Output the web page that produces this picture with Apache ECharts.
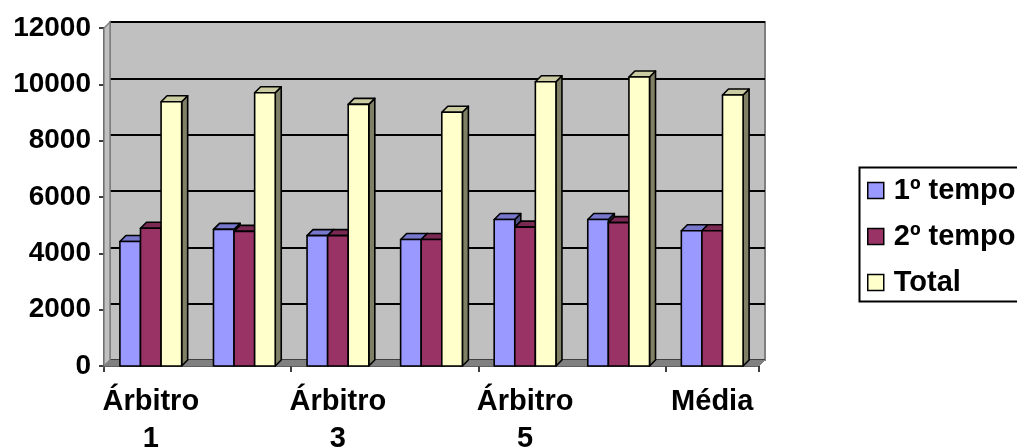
<!DOCTYPE html>
<html>
<head>
<meta charset="utf-8">
<script src="https://cdn.jsdelivr.net/npm/echarts@6/dist/echarts.min.js"></script>
<style>
  html, body { margin: 0; padding: 0; background: #fff; }
  #chart { width: 1017px; height: 447px; }
</style>
</head>
<body>
<div id="chart"></div>
<script>
// Data
var categories = ['Árbitro 1', 'Árbitro 2', 'Árbitro 3', 'Árbitro 4', 'Árbitro 5', 'Árbitro 6', 'Média'];
var seriesNames = ['1º tempo', '2º tempo', 'Total'];
var tempo1 = [4420, 4850, 4630, 4490, 5200, 5200, 4800];
var tempo2 = [4890, 4780, 4630, 4490, 4930, 5090, 4800];
var total = [9380, 9700, 9290, 9010, 10090, 10260, 9620];
var yTicks = [0, 2000, 4000, 6000, 8000, 10000, 12000];

// Styling
var FONT = 'Arial, "Liberation Sans", sans-serif';
var DEPTH_X = 6, DEPTH_Y = 6;
var BAR_RATIO = 0.22;
var faces = [
  { front: '#9999FF', top: '#7777CC', side: '#4D4D80' },
  { front: '#993366', top: '#7A2952', side: '#4D1A33' },
  { front: '#FFFFCC', top: '#CCCCA3', side: '#808066' }
];

function toPairs(arr) { return arr.map(function (v, i) { return [i, v]; }); }

// 3D-looking column: front face, top face and right side face
function bar3d(k) {
  return function (params, api) {
    var i = api.value(0), v = api.value(1);
    var base = api.coord([i, 0]);
    var tip = api.coord([i, v]);
    var band = api.size([1, 0])[0];
    var w = band * BAR_RATIO;
    var x = base[0] - 1.5 * w + k * w;
    var yb = base[1], yt = tip[1];
    var f = faces[k];
    var stroke = { stroke: '#000', lineWidth: 1.6, lineJoin: 'round' };
    return {
      type: 'group',
      children: [
        { type: 'polygon', shape: { points: [[x + w, yt], [x + w + DEPTH_X, yt - DEPTH_Y], [x + w + DEPTH_X, yb - DEPTH_Y], [x + w, yb]] },
          style: Object.assign({ fill: f.side }, stroke) },
        { type: 'polygon', shape: { points: [[x, yt], [x + w, yt], [x + w + DEPTH_X, yt - DEPTH_Y], [x + DEPTH_X, yt - DEPTH_Y]] },
          style: Object.assign({ fill: f.top }, stroke) },
        { type: 'rect', shape: { x: x, y: yt, width: w, height: yb - yt },
          style: Object.assign({ fill: f.front }, stroke) }
      ]
    };
  };
}

// Floor and left side wall of the plot box
function walls(params, api) {
  var n = categories.length;
  var band = api.size([1, 0])[0];
  var p0 = api.coord([0, 0]);
  var p1 = api.coord([n - 1, 0]);
  var pt = api.coord([0, yTicks[yTicks.length - 1]]);
  var x0 = p0[0] - band / 2, x1 = p1[0] + band / 2, y0 = p0[1], yt = pt[1];
  return {
    type: 'group',
    children: [
      { type: 'polygon', shape: { points: [[x0, y0], [x0, yt], [x0 + DEPTH_X, yt - DEPTH_Y], [x0 + DEPTH_X, y0 - DEPTH_Y]] },
        style: { fill: '#C0C0C0', stroke: '#808080', lineWidth: 1.5 } },
      { type: 'polygon', shape: { points: [[x0, y0], [x1, y0], [x1 + DEPTH_X, y0 - DEPTH_Y], [x0 + DEPTH_X, y0 - DEPTH_Y]] },
        style: { fill: '#808080', stroke: '#808080', lineWidth: 1 } }
    ]
  };
}

var chart = echarts.init(document.getElementById('chart'), null, { renderer: 'canvas' });

var yMax = yTicks[yTicks.length - 1];
var yStep = yTicks[1] - yTicks[0];

chart.setOption({
  animation: false,
  backgroundColor: '#ffffff',
  textStyle: { fontFamily: FONT },
  grid: [
    { left: 104, top: 28, width: 655, height: 338, outerBoundsMode: 'none', containLabel: false },
    { left: 110, top: 22, width: 655, height: 338, outerBoundsMode: 'none', containLabel: false,
      show: true, backgroundColor: '#C0C0C0', borderColor: '#808080', borderWidth: 2 }
  ],
  xAxis: [
    {
      gridIndex: 0, type: 'category', data: categories,
      axisLine: { lineStyle: { color: '#000', width: 1.5 } },
      axisTick: { show: true, length: 6, lineStyle: { color: '#000', width: 1.5 } },
      axisLabel: {
        interval: 1, margin: 17, color: '#000', fontFamily: FONT, fontWeight: 'bold', fontSize: 29, lineHeight: 37,
        formatter: function (v) { return v.replace(' ', '\n'); }
      }
    },
    { gridIndex: 1, type: 'category', data: categories, show: false }
  ],
  yAxis: [
    {
      gridIndex: 0, type: 'value', min: 0, max: yMax, interval: yStep,
      axisLine: { show: true, lineStyle: { color: '#000', width: 1.5 } },
      axisTick: { show: true, length: 5, lineStyle: { color: '#000', width: 1.5 } },
      axisLabel: { margin: 13, color: '#000', fontFamily: FONT, fontWeight: 'bold', fontSize: 28,
        formatter: function (v) { return String(v); } },
      splitLine: { show: false }
    },
    {
      gridIndex: 1, type: 'value', min: 0, max: yMax, interval: yStep,
      axisLine: { show: false }, axisTick: { show: false }, axisLabel: { show: false },
      splitLine: { show: true, lineStyle: { color: '#000', width: 2 } }
    }
  ],
  legend: {
    orient: 'vertical', left: 857, top: 165,
    data: seriesNames,
    icon: 'rect', itemWidth: 16, itemHeight: 16, itemGap: 17,
    padding: [11, 10, 8, 10],
    borderWidth: 0,
    itemStyle: { borderColor: '#000', borderWidth: 1.5 },
    textStyle: { color: '#000', fontFamily: FONT, fontWeight: 'bold', fontSize: 29, padding: [0, 0, 0, 5] }
  },
  // legend frame, running past the right edge of the canvas
  graphic: [
    { type: 'rect', left: 857, top: 165, z: 0, silent: true,
      shape: { width: 200, height: 134 },
      style: { fill: 'none', stroke: '#000', lineWidth: 2 } }
  ],
  series: [
    { type: 'custom', name: 'walls', xAxisIndex: 0, yAxisIndex: 0, z: 1, silent: true, renderItem: walls, data: [[0, 0]] },
    { type: 'custom', name: seriesNames[0], xAxisIndex: 0, yAxisIndex: 0, z: 3, renderItem: bar3d(0), itemStyle: { color: faces[0].front }, data: toPairs(tempo1), encode: { x: 0, y: 1 } },
    { type: 'custom', name: seriesNames[1], xAxisIndex: 0, yAxisIndex: 0, z: 3, renderItem: bar3d(1), itemStyle: { color: faces[1].front }, data: toPairs(tempo2), encode: { x: 0, y: 1 } },
    { type: 'custom', name: seriesNames[2], xAxisIndex: 0, yAxisIndex: 0, z: 3, renderItem: bar3d(2), itemStyle: { color: faces[2].front }, data: toPairs(total), encode: { x: 0, y: 1 } }
  ]
});
</script>
</body>
</html>
